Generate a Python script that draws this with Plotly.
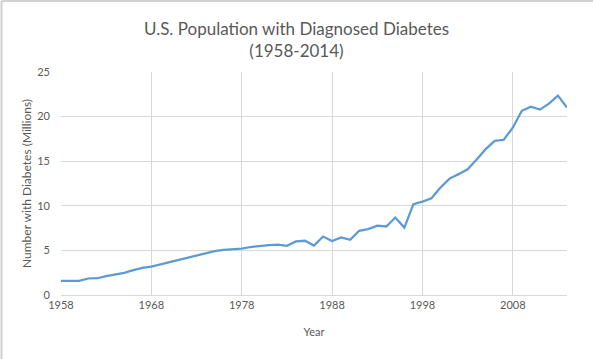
import plotly.graph_objects as go

years = list(range(1958, 2015))
diabetes_millions = [
    1.58, 1.58, 1.58, 1.85, 1.88, 2.12, 2.32, 2.48, 2.78, 3.05,
    3.18, 3.42, 3.66, 3.92, 4.15, 4.40, 4.66, 4.92, 5.05, 5.12,
    5.20, 5.38, 5.50, 5.60, 5.65, 5.52, 6.00, 6.08, 5.54, 6.55,
    6.06, 6.45, 6.18, 7.20, 7.38, 7.78, 7.68, 8.68, 7.56, 10.18,
    10.47, 10.85, 12.05, 13.05, 13.55, 14.10, 15.20, 16.35, 17.28, 17.40,
    18.75, 20.65, 21.10, 20.78, 21.45, 22.35, 21.00,
]
x_tick_vals = [1958, 1968, 1978, 1988, 1998, 2008]
y_tick_vals = [0, 5, 10, 15, 20, 25]

fig = go.Figure()
fig.add_trace(go.Scatter(
    x=years, y=diabetes_millions, mode="lines",
    line=dict(color="#5B9BD5", width=2.25),
    hoverinfo="x+y",
))

font_family = "Lato, 'Open Sans', sans-serif"
fig.update_layout(
    width=593, height=359,
    margin=dict(l=61, r=26, t=72, b=64),
    paper_bgcolor="white", plot_bgcolor="white",
    showlegend=False,
    title=dict(
        text="U.S. Population with Diagnosed Diabetes<br>(1958-2014)",
        x=0.5, xanchor="center", yref="container", y=1 - 35 / 359, yanchor="middle",
        font=dict(family=font_family, size=17, color="#595959"),
    ),
    font=dict(family=font_family, size=11, color="#595959"),
)
fig.update_xaxes(
    range=[1958, 2014], tickvals=x_tick_vals,
    showgrid=True, gridcolor="#D9D9D9", gridwidth=1,
    showline=True, linecolor="#D9D9D9", linewidth=1,
    zeroline=False, ticks="", ticklen=0,
    tickfont=dict(size=11, color="#595959"),
    title=dict(text="Year", font=dict(size=11, color="#595959"), standoff=18),
)
fig.update_yaxes(
    range=[0, 25], tickvals=y_tick_vals,
    showgrid=True, gridcolor="#D9D9D9", gridwidth=1,
    showline=False, zeroline=False, ticks="", ticklabelstandoff=10,
    tickfont=dict(size=11, color="#595959"),
    title=dict(text="Number with Diabetes (Millions)", font=dict(size=12, color="#595959"), standoff=3),
)
# chart-area border (only top and left edges visible in the reference crop)
left_px, top_px = 1.5, 1.0
px_to_px = lambda p: (p - 61) / 506
py_to_py = lambda p: (295 - p) / 223
fig.add_shape(type="line", xref="paper", yref="paper",
              x0=px_to_px(left_px), x1=px_to_px(left_px), y0=py_to_py(top_px), y1=py_to_py(359),
              line=dict(color="#D0D0D0", width=2))
fig.add_shape(type="line", xref="paper", yref="paper",
              x0=px_to_px(left_px), x1=px_to_px(593), y0=py_to_py(top_px), y1=py_to_py(top_px),
              line=dict(color="#D0D0D0", width=2))

fig.write_html("out.html", config={"displayModeBar": False},
               post_script="document.body.style.margin='0';")
